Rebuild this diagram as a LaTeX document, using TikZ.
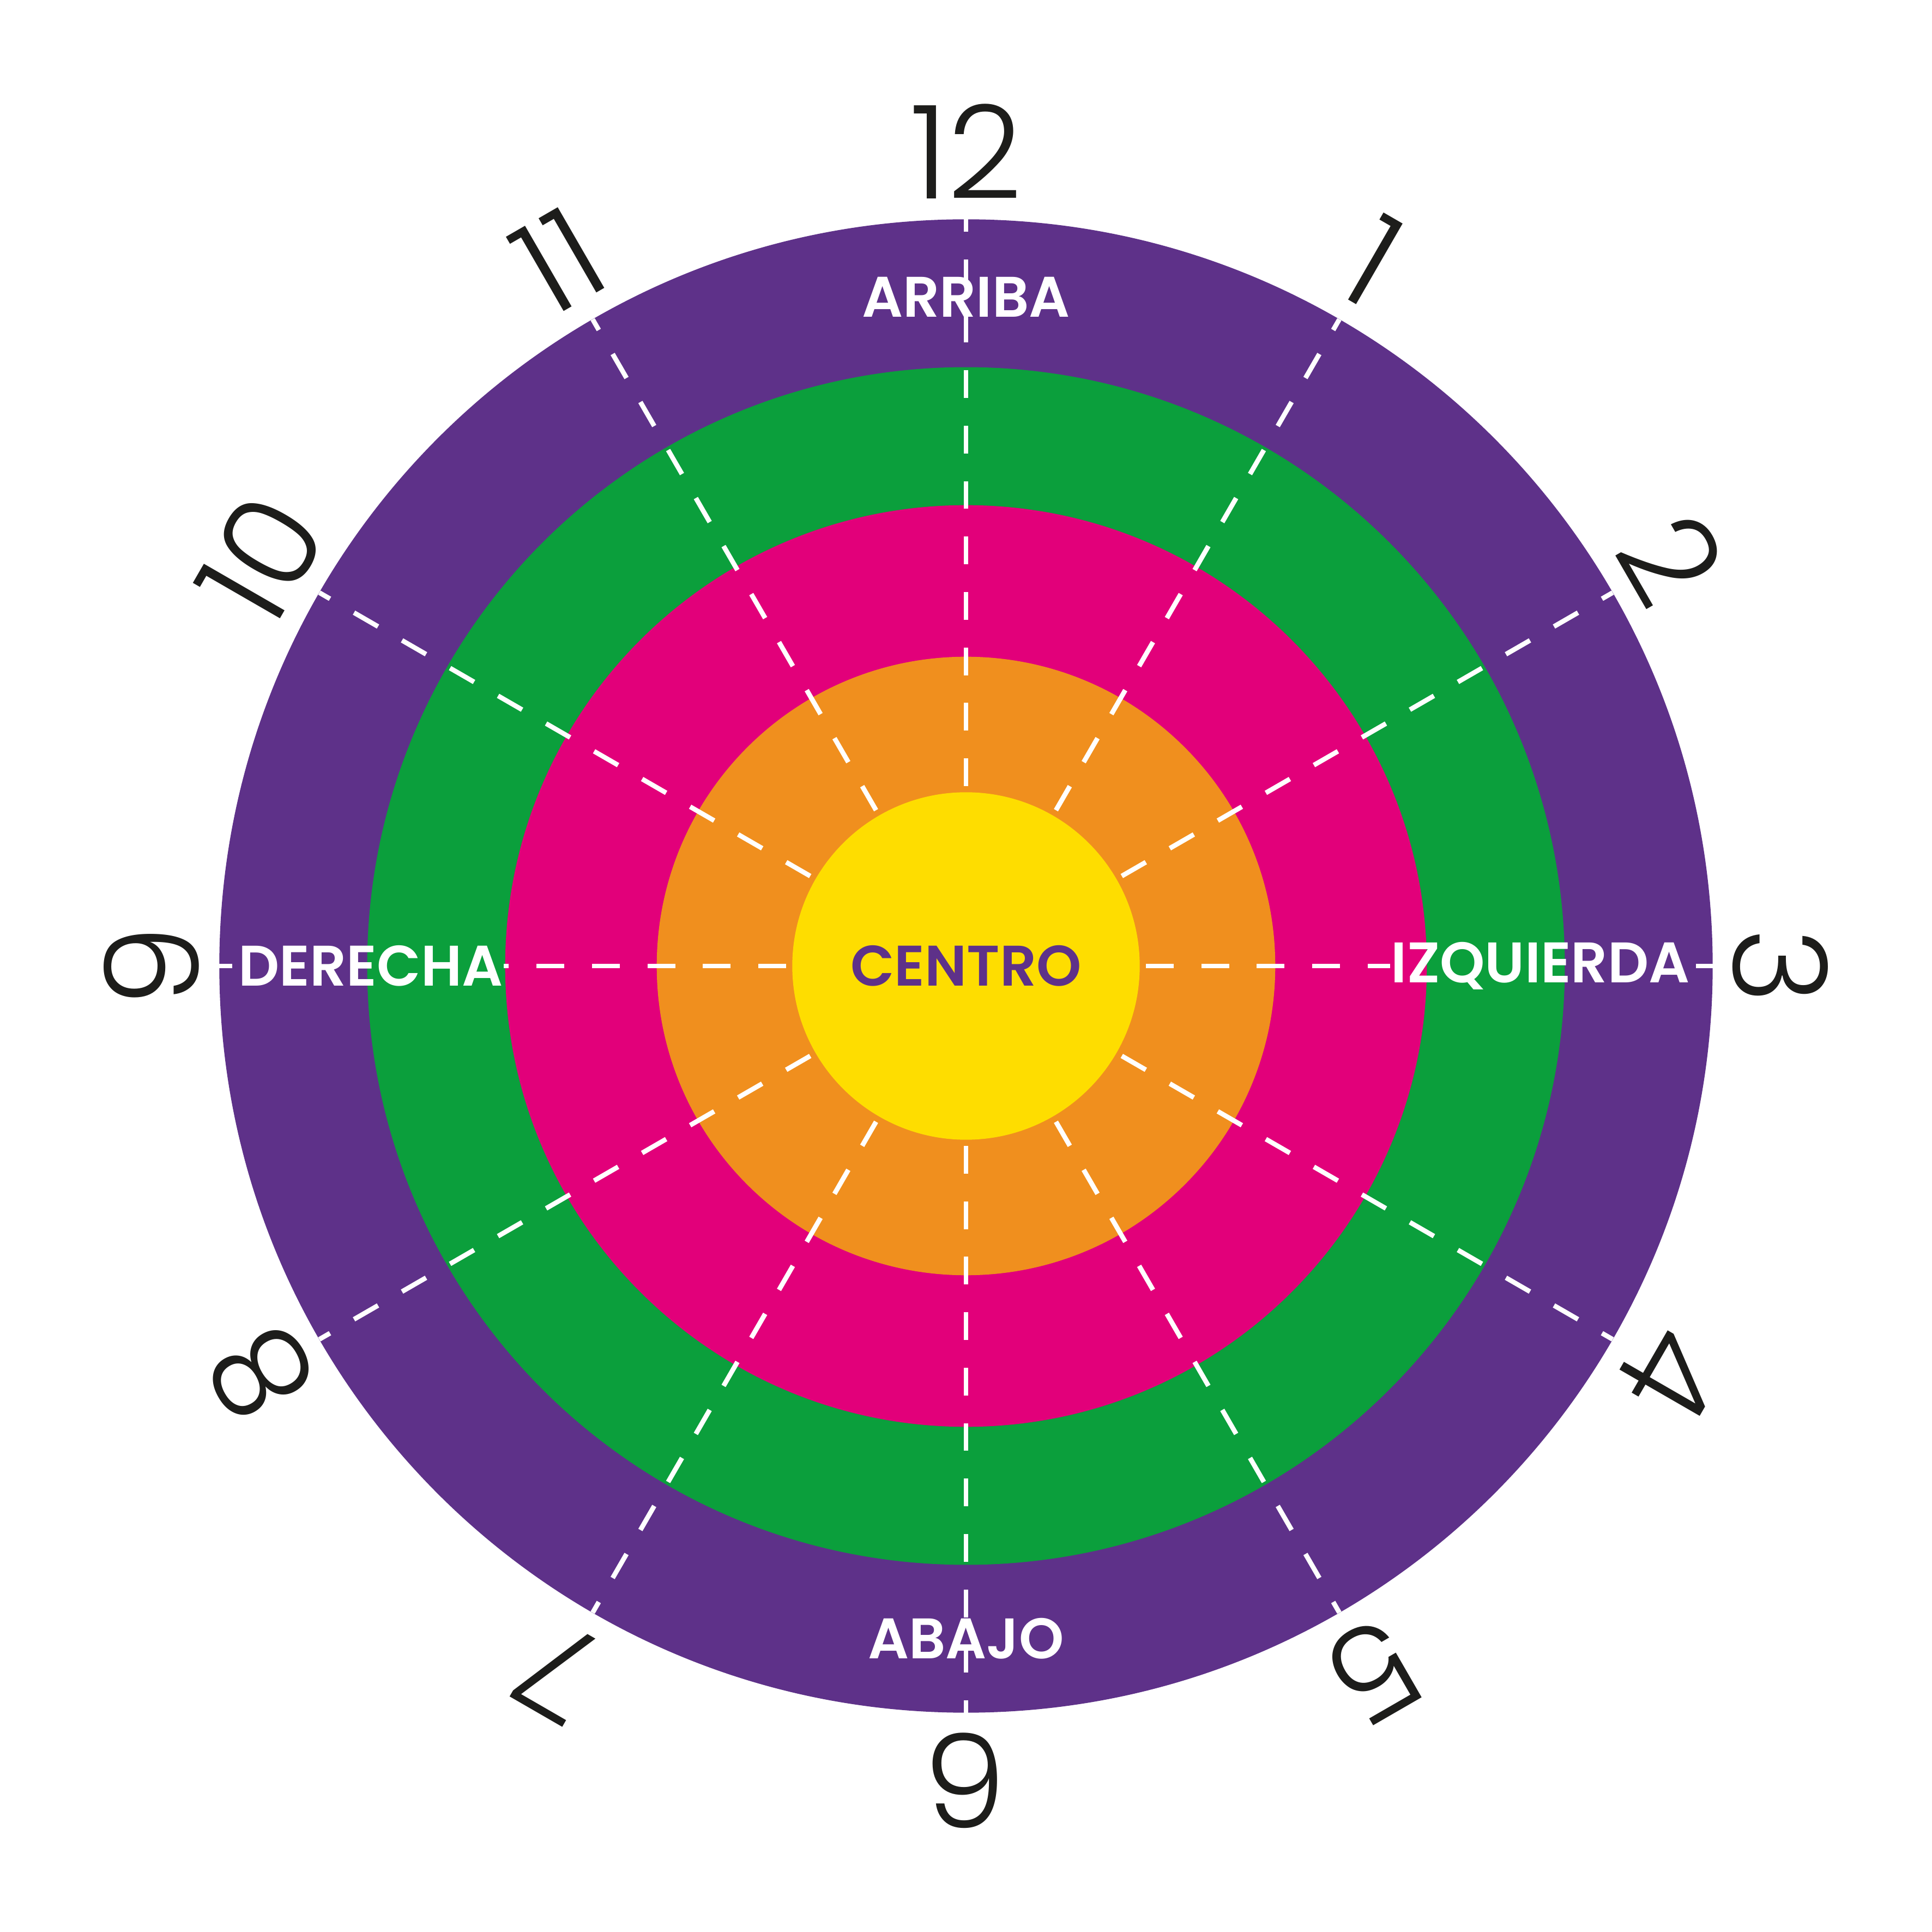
\documentclass[tikz,border=0pt]{standalone}
\usepackage{fontspec}
\setmainfont{Poppins}
\newfontfamily\dialfont{Poppins Light}
\newfontfamily\dirfont{Poppins SemiBold}

\definecolor{ringpurple}{HTML}{5E3189}
\definecolor{ringgreen}{HTML}{0B9F3C}
\definecolor{ringpink}{HTML}{E2007A}
\definecolor{ringorange}{HTML}{F08F1E}
\definecolor{ringyellow}{HTML}{FEDD00}
\definecolor{digitgray}{HTML}{1D1D1B}

\begin{document}
\begin{tikzpicture}[
    ring/.style={draw=none},
    ray/.style={white, line width=1.1pt, dash pattern=on 0.225cm off 0.225cm, dash phase=0.34cm},
    stub/.style={white, line width=1.1pt, shorten <=0.45mm},
    hour/.style={text=digitgray, inner sep=0pt, font=\dialfont\fontsize{30}{30}\selectfont},
    dirtext/.style={text=white, inner sep=0pt, font=\dirfont\fontsize{13.2}{14}\selectfont}]
    \useasboundingbox (-7.84,-7.84) rectangle (7.84,7.84);

    % target rings
    \fill [ring, ringpurple] (0,0) circle (6.06);
    \fill [ring, ringgreen] (0,0) circle (4.86);
    \fill [ring, ringpink] (0,0) circle (3.74);
    \fill [ring, ringorange] (0,0) circle (2.51);

    % directions
    \coordinate (c) at (0,0);
    \node [dirtext] (arriba) at (90:5.43) {ARRIBA};
    \node [dirtext] (abajo) at (-90:5.46) {ABAJO};
    \node [dirtext, anchor=west] (derecha) at (-5.91,0) {DERECHA};
    \node [dirtext, anchor=east] (izquierda) at (5.88,0) {IZQUIERDA};

    % rays
    \foreach \a in {0,30,...,330}
        \coordinate (rim\a) at (\a:6.06);
    \foreach \a in {30,60,...,150,210,240,...,330}
        \draw [ray] (c) -- (rim\a);
    \draw [ray] (c) -- (izquierda.west);
    \draw [ray] (c) -- (derecha.east);
    \draw [stub] (izquierda.east) -- (rim0);
    \draw [stub] (derecha.west) -- (rim180);

    \fill [ring, ringyellow] (c) circle (1.41);
    \node [dirtext, text=ringpurple] (centro) at (c) {CENTRO};

    % hours
    \node [hour] (h12) at (90:6.61) {12};
    \node [hour, rotate=-30] (h1) at (60:6.61) {1};
    \node [hour, rotate=-60] (h2) at (30:6.61) {2};
    \node [hour, rotate=-90] (h3) at (0:6.61) {3};
    \node [hour, rotate=-120] (h4) at (-30:6.61) {4};
    \node [hour, rotate=-150] (h5) at (-60:6.61) {5};
    \node [hour, rotate=180] (h6) at (-90:6.61) {6};
    \node [hour, rotate=150] (h7) at (-120:6.61) {7};
    \node [hour, rotate=120] (h8) at (-150:6.61) {8};
    \node [hour, rotate=90] (h9) at (180:6.61) {9};
    \node [hour, rotate=60] (h10) at (150:6.61) {10};
    \node [hour, rotate=30] (h11) at (120:6.61) {11};
\end{tikzpicture}
\end{document}
